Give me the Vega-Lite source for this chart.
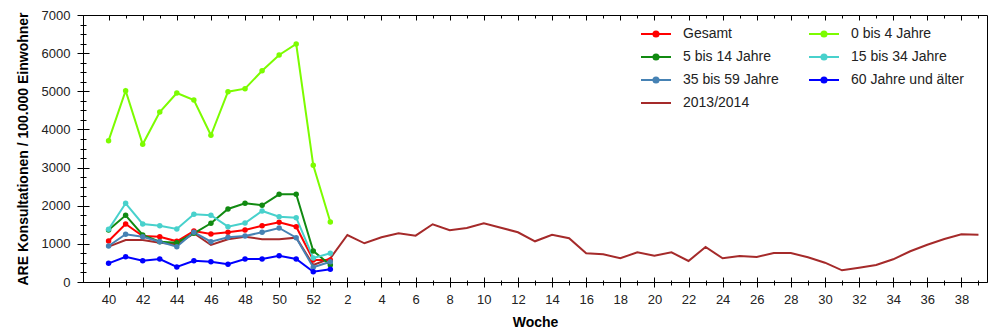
{
  "$schema": "https://vega.github.io/schema/vega-lite/v6.json",
  "width": 904,
  "height": 267,
  "autosize": {"type": "none"},
  "padding": {"left": 83, "top": 15, "right": 7, "bottom": 54},
  "background": "white",
  "config": {
    "view": {"stroke": "black", "strokeWidth": 1},
    "font": "Liberation Sans",
    "axis": {"grid": false, "domainColor": "black", "tickColor": "black", "labelColor": "#222", "labelFont": "Liberation Sans", "labelFontSize": 13, "titleFont": "Liberation Sans", "titleColor": "black", "labelOverlap": false, "labelFlush": false}
  },
  "data": {"values": [
    {"i":0,"series":"Gesamt","value":1075},{"i":1,"series":"Gesamt","value":1521},{"i":2,"series":"Gesamt","value":1206},{"i":3,"series":"Gesamt","value":1188},{"i":4,"series":"Gesamt","value":1067},{"i":5,"series":"Gesamt","value":1337},{"i":6,"series":"Gesamt","value":1259},{"i":7,"series":"Gesamt","value":1303},{"i":8,"series":"Gesamt","value":1363},{"i":9,"series":"Gesamt","value":1476},{"i":10,"series":"Gesamt","value":1565},{"i":11,"series":"Gesamt","value":1450},{"i":12,"series":"Gesamt","value":577},{"i":13,"series":"Gesamt","value":577},
    {"i":0,"series":"0 bis 4 Jahre","value":3705},{"i":1,"series":"0 bis 4 Jahre","value":5016},{"i":2,"series":"0 bis 4 Jahre","value":3610},{"i":3,"series":"0 bis 4 Jahre","value":4457},{"i":4,"series":"0 bis 4 Jahre","value":4956},{"i":5,"series":"0 bis 4 Jahre","value":4772},{"i":6,"series":"0 bis 4 Jahre","value":3846},{"i":7,"series":"0 bis 4 Jahre","value":4990},{"i":8,"series":"0 bis 4 Jahre","value":5068},{"i":9,"series":"0 bis 4 Jahre","value":5540},{"i":10,"series":"0 bis 4 Jahre","value":5952},{"i":11,"series":"0 bis 4 Jahre","value":6240},{"i":12,"series":"0 bis 4 Jahre","value":3060},{"i":13,"series":"0 bis 4 Jahre","value":1573},
    {"i":0,"series":"5 bis 14 Jahre","value":1363},{"i":1,"series":"5 bis 14 Jahre","value":1749},{"i":2,"series":"5 bis 14 Jahre","value":1232},{"i":3,"series":"5 bis 14 Jahre","value":1057},{"i":4,"series":"5 bis 14 Jahre","value":1030},{"i":5,"series":"5 bis 14 Jahre","value":1277},{"i":6,"series":"5 bis 14 Jahre","value":1539},{"i":7,"series":"5 bis 14 Jahre","value":1914},{"i":8,"series":"5 bis 14 Jahre","value":2063},{"i":9,"series":"5 bis 14 Jahre","value":2011},{"i":10,"series":"5 bis 14 Jahre","value":2299},{"i":11,"series":"5 bis 14 Jahre","value":2299},{"i":12,"series":"5 bis 14 Jahre","value":813},{"i":13,"series":"5 bis 14 Jahre","value":446},
    {"i":0,"series":"15 bis 34 Jahre","value":1380},{"i":1,"series":"15 bis 34 Jahre","value":2063},{"i":2,"series":"15 bis 34 Jahre","value":1521},{"i":3,"series":"15 bis 34 Jahre","value":1476},{"i":4,"series":"15 bis 34 Jahre","value":1390},{"i":5,"series":"15 bis 34 Jahre","value":1775},{"i":6,"series":"15 bis 34 Jahre","value":1749},{"i":7,"series":"15 bis 34 Jahre","value":1450},{"i":8,"series":"15 bis 34 Jahre","value":1547},{"i":9,"series":"15 bis 34 Jahre","value":1862},{"i":10,"series":"15 bis 34 Jahre","value":1712},{"i":11,"series":"15 bis 34 Jahre","value":1686},{"i":12,"series":"15 bis 34 Jahre","value":629},{"i":13,"series":"15 bis 34 Jahre","value":752},
    {"i":0,"series":"35 bis 59 Jahre","value":944},{"i":1,"series":"35 bis 59 Jahre","value":1251},{"i":2,"series":"35 bis 59 Jahre","value":1188},{"i":3,"series":"35 bis 59 Jahre","value":1057},{"i":4,"series":"35 bis 59 Jahre","value":926},{"i":5,"series":"35 bis 59 Jahre","value":1303},{"i":6,"series":"35 bis 59 Jahre","value":1057},{"i":7,"series":"35 bis 59 Jahre","value":1172},{"i":8,"series":"35 bis 59 Jahre","value":1206},{"i":9,"series":"35 bis 59 Jahre","value":1303},{"i":10,"series":"35 bis 59 Jahre","value":1416},{"i":11,"series":"35 bis 59 Jahre","value":1162},{"i":12,"series":"35 bis 59 Jahre","value":385},{"i":13,"series":"35 bis 59 Jahre","value":532},
    {"i":0,"series":"60 Jahre und älter","value":490},{"i":1,"series":"60 Jahre und älter","value":663},{"i":2,"series":"60 Jahre und älter","value":558},{"i":3,"series":"60 Jahre und älter","value":603},{"i":4,"series":"60 Jahre und älter","value":393},{"i":5,"series":"60 Jahre und älter","value":558},{"i":6,"series":"60 Jahre und älter","value":532},{"i":7,"series":"60 Jahre und älter","value":464},{"i":8,"series":"60 Jahre und älter","value":603},{"i":9,"series":"60 Jahre und älter","value":603},{"i":10,"series":"60 Jahre und älter","value":690},{"i":11,"series":"60 Jahre und älter","value":603},{"i":12,"series":"60 Jahre und älter","value":270},{"i":13,"series":"60 Jahre und älter","value":333},
    {"i":0,"series":"2013/2014","value":926},{"i":1,"series":"2013/2014","value":1101},{"i":2,"series":"2013/2014","value":1101},{"i":3,"series":"2013/2014","value":1030},{"i":4,"series":"2013/2014","value":988},{"i":5,"series":"2013/2014","value":1277},{"i":6,"series":"2013/2014","value":970},{"i":7,"series":"2013/2014","value":1120},{"i":8,"series":"2013/2014","value":1188},{"i":9,"series":"2013/2014","value":1120},{"i":10,"series":"2013/2014","value":1120},{"i":11,"series":"2013/2014","value":1162},{"i":12,"series":"2013/2014","value":446},{"i":13,"series":"2013/2014","value":621},
    {"i":14,"series":"2013/2014","value":1232},{"i":15,"series":"2013/2014","value":1015},{"i":16,"series":"2013/2014","value":1172},{"i":17,"series":"2013/2014","value":1277},{"i":18,"series":"2013/2014","value":1214},{"i":19,"series":"2013/2014","value":1513},{"i":20,"series":"2013/2014","value":1356},{"i":21,"series":"2013/2014","value":1416},{"i":22,"series":"2013/2014","value":1539},{"i":23,"series":"2013/2014","value":1424},{"i":24,"series":"2013/2014","value":1303},{"i":25,"series":"2013/2014","value":1067},{"i":26,"series":"2013/2014","value":1240},{"i":27,"series":"2013/2014","value":1146},{"i":28,"series":"2013/2014","value":752},{"i":29,"series":"2013/2014","value":726},{"i":30,"series":"2013/2014","value":621},{"i":31,"series":"2013/2014","value":779},{"i":32,"series":"2013/2014","value":690},
    {"i":33,"series":"2013/2014","value":779},{"i":34,"series":"2013/2014","value":551},{"i":35,"series":"2013/2014","value":918},{"i":36,"series":"2013/2014","value":621},{"i":37,"series":"2013/2014","value":682},{"i":38,"series":"2013/2014","value":656},{"i":39,"series":"2013/2014","value":760},{"i":40,"series":"2013/2014","value":760},{"i":41,"series":"2013/2014","value":648},{"i":42,"series":"2013/2014","value":506},{"i":43,"series":"2013/2014","value":307},{"i":44,"series":"2013/2014","value":375},{"i":45,"series":"2013/2014","value":446},{"i":46,"series":"2013/2014","value":595},{"i":47,"series":"2013/2014","value":805},{"i":48,"series":"2013/2014","value":978},{"i":49,"series":"2013/2014","value":1127},{"i":50,"series":"2013/2014","value":1251},{"i":51,"series":"2013/2014","value":1240}
  ]},
  "layer": [
    {
      "transform": [{"filter": "datum.series === '2013/2014'"}],
      "mark": {"type": "line", "strokeWidth": 2},
      "encoding": {
        "x": {"field": "i", "type": "quantitative", "scale": {"domain": [-1.5, 51.5], "nice": false, "zero": false},
          "axis": {"orient": "top", "values": [0,1,2,3,4,5,6,7,8,9,10,11,12,13,14,15,16,17,18,19,20,21,22,23,24,25,26,27,28,29,30,31,32,33,34,35,36,37,38,39,40,41,42,43,44,45,46,47,48,49,50,51], "labels": false, "domain": false, "title": null,
            "tickSize": {"condition": {"test": "datum.value % 2 === 0", "value": -5}, "value": -3}}},
        "y": {"field": "value", "type": "quantitative", "scale": {"domain": [0, 7000], "nice": false},
          "axis": {"orient": "left", "values": [0,250,500,750,1000,1250,1500,1750,2000,2250,2500,2750,3000,3250,3500,3750,4000,4250,4500,4750,5000,5250,5500,5750,6000,6250,6500,6750,7000], "labels": false, "domain": false, "title": null,
            "tickSize": {"condition": {"test": "datum.value % 1000 === 0", "value": -6}, "value": -3}}},
        "color": {"field": "series", "type": "nominal",
          "scale": {"domain": ["Gesamt","0 bis 4 Jahre","5 bis 14 Jahre","15 bis 34 Jahre","35 bis 59 Jahre","60 Jahre und älter","2013/2014"], "range": ["#FF0000","#7CFC00","#118A11","#48D1CC","#4682B4","#0000FF","#A52A2A"]}}
      }
    },
    {
      "transform": [{"filter": "datum.series !== '2013/2014'"}],
      "mark": {"type": "line", "strokeWidth": 2, "point": {"filled": true, "size": 30}},
      "encoding": {
        "x": {"field": "i", "type": "quantitative",
          "axis": {"orient": "bottom", "values": [0,1,2,3,4,5,6,7,8,9,10,11,12,13,14,15,16,17,18,19,20,21,22,23,24,25,26,27,28,29,30,31,32,33,34,35,36,37,38,39,40,41,42,43,44,45,46,47,48,49,50,51],
            "labelExpr": "datum.value % 2 === 0 ? (datum.value <= 12 ? datum.value + 40 : datum.value - 12) : ''",
            "tickSize": {"condition": {"test": "datum.value % 2 === 0", "value": 5}, "value": 3},
            "labelPadding": 6, "title": "Woche", "titleFontSize": 14, "titleFontWeight": "bold", "titlePadding": 9}},
        "y": {"field": "value", "type": "quantitative",
          "axis": {"orient": "left", "values": [0,250,500,750,1000,1250,1500,1750,2000,2250,2500,2750,3000,3250,3500,3750,4000,4250,4500,4750,5000,5250,5500,5750,6000,6250,6500,6750,7000],
            "labelExpr": "datum.value % 1000 === 0 ? datum.value : ''",
            "tickSize": {"condition": {"test": "datum.value % 1000 === 0", "value": 6}, "value": 3},
            "labelPadding": 7, "title": "ARE Konsultationen / 100.000 Einwohner", "titleFontSize": 14, "titleFontWeight": "bold", "titlePadding": 11}},
        "color": {"field": "series", "type": "nominal",
          "legend": {"orient": "none", "legendX": 557, "legendY": 3, "columns": 2, "direction": "horizontal", "title": null,
            "labelFontSize": 14, "labelColor": "#222", "labelFont": "Liberation Sans",
            "symbolSize": 900, "symbolStrokeWidth": 2, "labelOffset": 11, "columnPadding": 26, "rowPadding": -6, "padding": 0,
            "values": ["Gesamt","0 bis 4 Jahre","5 bis 14 Jahre","15 bis 34 Jahre","35 bis 59 Jahre","60 Jahre und älter","2013/2014"],
            "encode": {"symbols": {"update": {
              "shape": {"signal": "datum.value === '2013/2014' ? 'M-1,0L1,0' : 'M-1,0L1,0M0.17,0A0.17,0.17 0 1,1 -0.17,0A0.17,0.17 0 1,1 0.17,0Z'"},
              "fill": {"signal": "datum.value === '2013/2014' ? 'transparent' : scale('color', datum.value)"},
              "stroke": {"signal": "scale('color', datum.value)"},
              "strokeWidth": {"value": 2},
              "opacity": {"value": 1}}}}}}
      }
    },
    {
      "transform": [{"filter": "datum.series !== '2013/2014'"}],
      "mark": {"type": "point", "opacity": 0},
      "encoding": {
        "x": {"field": "i", "type": "quantitative",
          "axis": {"orient": "bottom", "values": [0,1,2,3,4,5,6,7,8,9,10,11,12,13,14,15,16,17,18,19,20,21,22,23,24,25,26,27,28,29,30,31,32,33,34,35,36,37,38,39,40,41,42,43,44,45,46,47,48,49,50,51], "labels": false, "domain": false, "title": null,
            "tickSize": {"condition": {"test": "datum.value % 2 === 0", "value": -5}, "value": -2}}},
        "y": {"field": "value", "type": "quantitative", "axis": null}
      }
    }
  ],
  "resolve": {"axis": {"x": "independent", "y": "independent"}}
}
